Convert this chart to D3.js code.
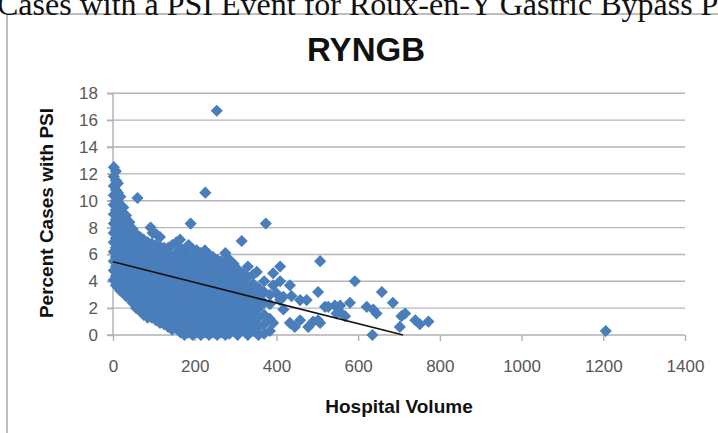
<!DOCTYPE html>
<html><head><meta charset="utf-8">
<script src="https://cdn.jsdelivr.net/npm/d3@7"></script>
<style>
html,body{margin:0;padding:0;background:#fff;overflow:hidden;}
svg{display:block;}
</style></head>
<body>
<svg id="c" width="718" height="433"></svg>
<script>
// ---- data ----
const chartTitle = "RYNGB";
const captionText = "Cases with a PSI Event for Roux-en-Y Gastric Bypass Procedures";
const xTicks = [0, 200, 400, 600, 800, 1000, 1200, 1400];
const yTicks = [0, 2, 4, 6, 8, 10, 12, 14, 16, 18];
const xLabel = "Hospital Volume";
const yLabel = "Percent Cases with PSI";
// [hospital volume, percent of cases with PSI]
const hospitals = [
[2,12.5],[2,11.8],[2,11.1],[2,10.4],[2,9.7],[2,9.0],[2,8.3],[2,7.6],[2,6.9],[2,6.2],[2,5.5],[2,4.8],[2,4.1],
[7,12.2],[7,11.5],[7,10.8],[7,10.0],[7,9.3],[7,8.6],[7,7.9],[7,7.2],[7,6.5],[7,5.8],[7,5.1],[7,4.4],[7,3.7],
[12,11.3],[12,10.6],[12,9.9],[12,9.2],[12,8.5],[12,7.8],[12,7.1],[12,6.4],[12,5.7],[12,5.0],[12,4.3],[12,3.6],
[18,10.3],[18,9.6],[18,8.9],[18,8.2],[18,7.5],[18,6.8],[18,6.1],[18,5.4],[18,4.7],[18,4.0],[18,3.3],
[25,9.5],[25,8.8],[25,8.1],[25,7.4],[25,6.7],[25,6.0],[25,5.3],[25,4.6],[25,3.9],[25,3.2],
[32,8.9],[32,8.5],[32,7.8],[32,7.1],[32,6.4],[32,5.7],[32,5.0],[32,4.3],[32,3.6],[32,2.9],
[40,8.4],[40,7.7],[40,7.0],[40,6.3],[40,5.6],[40,4.9],[40,4.2],[40,3.5],[40,2.8],
[48,7.9],[48,7.3],[48,6.6],[48,5.9],[48,5.2],[48,4.5],[48,3.8],[48,3.1],[48,2.4],
[57,7.5],[57,6.9],[57,6.2],[57,5.5],[57,4.8],[57,4.1],[57,3.4],[57,2.7],[57,2.0],
[60,10.2],
[66,7.3],[66,6.6],[66,5.9],[66,5.2],[66,4.5],[66,3.8],[66,3.1],[66,2.4],[66,1.8],
[75,7.1],[75,6.3],[75,5.6],[75,4.9],[75,4.2],[75,3.5],[75,2.8],[75,2.1],[75,1.5],
[85,6.9],[85,6.6],[85,5.9],[85,5.2],[85,4.5],[85,3.8],[85,3.1],[85,2.4],[85,1.7],[85,1.3],
[92,8.0],[97,7.6],[106,7.5],[115,7.3],
[95,6.8],[95,6.2],[95,5.5],[95,4.8],[95,4.1],[95,3.4],[95,2.7],[95,2.0],[95,1.3],
[105,6.7],[105,5.9],[105,5.2],[105,4.5],[105,3.8],[105,3.1],[105,2.4],[105,1.7],[105,1.1],
[115,6.6],[115,6.2],[115,5.5],[115,4.8],[115,4.1],[115,3.4],[115,2.7],[115,2.0],[115,1.3],[115,0.9],
[125,6.5],[125,5.8],[125,5.1],[125,4.4],[125,3.7],[125,3.0],[125,2.3],[125,1.6],[125,0.8],
[135,6.5],[135,6.1],[135,5.4],[135,4.7],[135,4.0],[135,3.3],[135,2.6],[135,1.9],[135,1.2],[135,0.6],
[145,6.7],[145,5.8],[145,5.1],[145,4.4],[145,3.7],[145,3.0],[145,2.3],[145,1.6],[145,0.9],[145,0.4],
[155,6.9],[155,6.1],[155,5.4],[155,4.7],[155,4.0],[155,3.3],[155,2.6],[155,1.9],[155,1.2],[155,0.5],
[164,7.1],
[165,6.5],[165,5.8],[165,5.1],[165,4.4],[165,3.7],[165,3.0],[165,2.3],[165,1.6],[165,0.9],[165,0.2],
[175,6.2],[175,5.4],[175,4.7],[175,4.0],[175,3.3],[175,2.6],[175,1.9],[175,1.2],[175,0.5],[175,0.0],
[185,6.7],[185,5.8],[185,5.1],[185,4.4],[185,3.7],[185,3.0],[185,2.3],[185,1.6],[185,0.9],[185,0.2],
[190,8.3],
[195,6.4],[195,5.5],[195,4.8],[195,4.1],[195,3.4],[195,2.7],[195,2.0],[195,1.3],[195,0.6],[195,0.0],
[205,6.3],[205,5.8],[205,5.1],[205,4.4],[205,3.7],[205,3.0],[205,2.3],[205,1.6],[205,0.9],[205,0.2],
[215,6.1],[215,5.5],[215,4.8],[215,4.1],[215,3.4],[215,2.7],[215,2.0],[215,1.3],[215,0.6],[215,0.0],
[226,10.6],
[225,6.3],[225,5.8],[225,5.1],[225,4.4],[225,3.7],[225,3.0],[225,2.3],[225,1.6],[225,0.9],[225,0.2],
[235,6.0],[235,5.4],[235,4.7],[235,4.0],[235,3.3],[235,2.6],[235,1.9],[235,1.2],[235,0.5],[235,0.0],
[245,5.8],[245,5.1],[245,4.4],[245,3.7],[245,3.0],[245,2.3],[245,1.6],[245,0.9],[245,0.2],
[254,16.7],
[255,5.6],[255,4.8],[255,4.1],[255,3.4],[255,2.7],[255,2.0],[255,1.3],[255,0.6],[255,0.0],
[265,5.5],[265,5.1],[265,4.4],[265,3.7],[265,3.0],[265,2.3],[265,1.6],[265,0.9],[265,0.2],
[275,6.1],[275,5.4],[275,4.7],[275,4.0],[275,3.3],[275,2.6],[275,1.9],[275,1.2],[275,0.5],[275,0.0],
[285,5.6],[285,5.0],[285,4.3],[285,3.6],[285,2.9],[285,2.2],[285,1.5],[285,0.8],[285,0.1],
[295,5.3],[295,4.6],[295,3.9],[295,3.2],[295,2.5],[295,1.8],[295,1.1],[295,0.4],
[305,4.9],[305,4.2],[305,3.5],[305,2.8],[305,2.1],[305,1.4],[305,0.7],[305,0.0],
[315,7.0],
[318,4.6],[318,3.9],[318,3.2],[318,2.5],[318,1.8],[318,1.1],[318,0.4],
[330,5.1],[330,4.3],[330,3.5],[330,2.8],[330,2.1],[330,1.4],[330,0.7],[330,0.0],
[343,4.5],[343,3.8],[343,3.1],[343,2.4],[343,1.7],[343,1.0],[343,0.3],
[352,4.7],
[356,3.5],[356,2.8],[356,2.0],[356,1.3],[356,0.6],[356,0.0],
[370,4.0],[370,3.2],[370,2.4],[370,1.5],[370,0.8],[370,0.1],
[374,8.3],
[384,3.0],[384,2.3],[384,1.2],[384,0.3],
[392,4.6],[392,3.7],[392,0.9],[400,3.1],
[409,5.1],[409,4.0],[409,2.6],[417,1.9],[417,2.85],[433,3.7],[433,0.9],[437,2.9],[445,0.6],
[458,2.6],[458,1.1],[474,2.6],[478,0.6],[490,1.0],[502,3.2],[502,1.1],[507,5.5],[507,0.9],
[519,2.1],[527,2.1],[543,2.2],[547,1.6],[556,1.7],[556,2.2],[568,1.4],[580,2.4],[592,4.0],
[621,2.1],[635,0.0],[637,1.9],[645,1.6],[658,3.2],[685,2.4],[702,0.6],[706,1.4],[715,1.6],
[740,1.1],[751,0.8],[772,1.0],[1206,0.3]
];
// linear trend line end points
const trendVolume = [0, 710];
const trendPct = [5.45, 0];

// ---- drawing ----
const svg = d3.select("#c");
const W = 718, H = 433;
svg.append("rect").attr("width", W).attr("height", H).attr("fill", "#fff");

// chart frame
svg.append("rect").attr("x", 7).attr("y", 14).attr("width", 760).attr("height", 460)
  .attr("fill", "#fff").attr("stroke", "#a8a8a8").attr("stroke-width", 1.5);

// caption text above the chart frame (cut by the top of the image)
svg.append("text").attr("x", -3).attr("y", 15)
  .attr("font-family", "'Liberation Serif','Times New Roman',serif")
  .attr("font-size", 32).attr("fill", "#111").text(captionText);

const x = d3.scaleLinear().domain([0, 1400]).range([113, 685]);
const y = d3.scaleLinear().domain([0, 18]).range([335, 93.3]);

// gridlines
svg.append("g").selectAll("line").data(yTicks.filter(d => d > 0)).join("line")
  .attr("x1", x(0) - 6).attr("x2", x(1400))
  .attr("y1", d => y(d)).attr("y2", d => y(d))
  .attr("stroke", "#b5b5b5").attr("stroke-width", 1.4);

// axes
const font = "'Liberation Sans',Arial,Helvetica,sans-serif";
const yAxis = svg.append("g").attr("transform", `translate(${x(0)},0)`)
  .call(d3.axisLeft(y).tickValues(yTicks).tickSize(6).tickPadding(9).tickFormat(d3.format("d")));
const xAxis = svg.append("g").attr("transform", `translate(0,${y(0)})`)
  .call(d3.axisBottom(x).tickValues(xTicks).tickSize(6).tickPadding(19).tickFormat(d3.format("d")));
[xAxis, yAxis].forEach(g => {
  g.select(".domain").attr("stroke", "#b0b0b0").attr("stroke-width", 1.4);
  g.selectAll(".tick line").attr("stroke", "#b0b0b0").attr("stroke-width", 1.4);
  g.selectAll(".tick text").attr("fill", "#575757").attr("font-family", font).attr("font-size", 17);
});
yAxis.select(".domain").attr("d", `M0,${y(18)}V${y(0)}`);
xAxis.select(".domain").attr("d", `M${x(0) - 6},0H${x(1400)}`);

// points (diamonds)
const diamond = d3.symbol(d3.symbolSquare, 74);
svg.append("g").selectAll("path").data(hospitals).join("path")
  .attr("d", diamond)
  .attr("transform", d => `translate(${x(d[0])},${y(d[1])}) rotate(45)`)
  .attr("fill", "#4a7ebb");

// trend line
const trend = trendVolume.map((v, i) => [v, trendPct[i]]);
svg.append("path").datum(trend)
  .attr("d", d3.line().x(d => x(d[0])).y(d => y(d[1])))
  .attr("fill", "none").attr("stroke", "#111").attr("stroke-width", 1.5);

// titles
svg.append("text").attr("x", 366).attr("y", 61).attr("text-anchor", "middle")
  .attr("font-family", font).attr("font-weight", "bold").attr("font-size", 33)
  .attr("fill", "#111").text(chartTitle);
svg.append("text").attr("x", 399).attr("y", 413).attr("text-anchor", "middle")
  .attr("font-family", font).attr("font-weight", "bold").attr("font-size", 19)
  .attr("fill", "#111").text(xLabel);
svg.append("text").attr("transform", "translate(53,213) rotate(-90)").attr("text-anchor", "middle")
  .attr("font-family", font).attr("font-weight", "bold").attr("font-size", 19)
  .attr("fill", "#111").text(yLabel);
</script>
</body></html>
